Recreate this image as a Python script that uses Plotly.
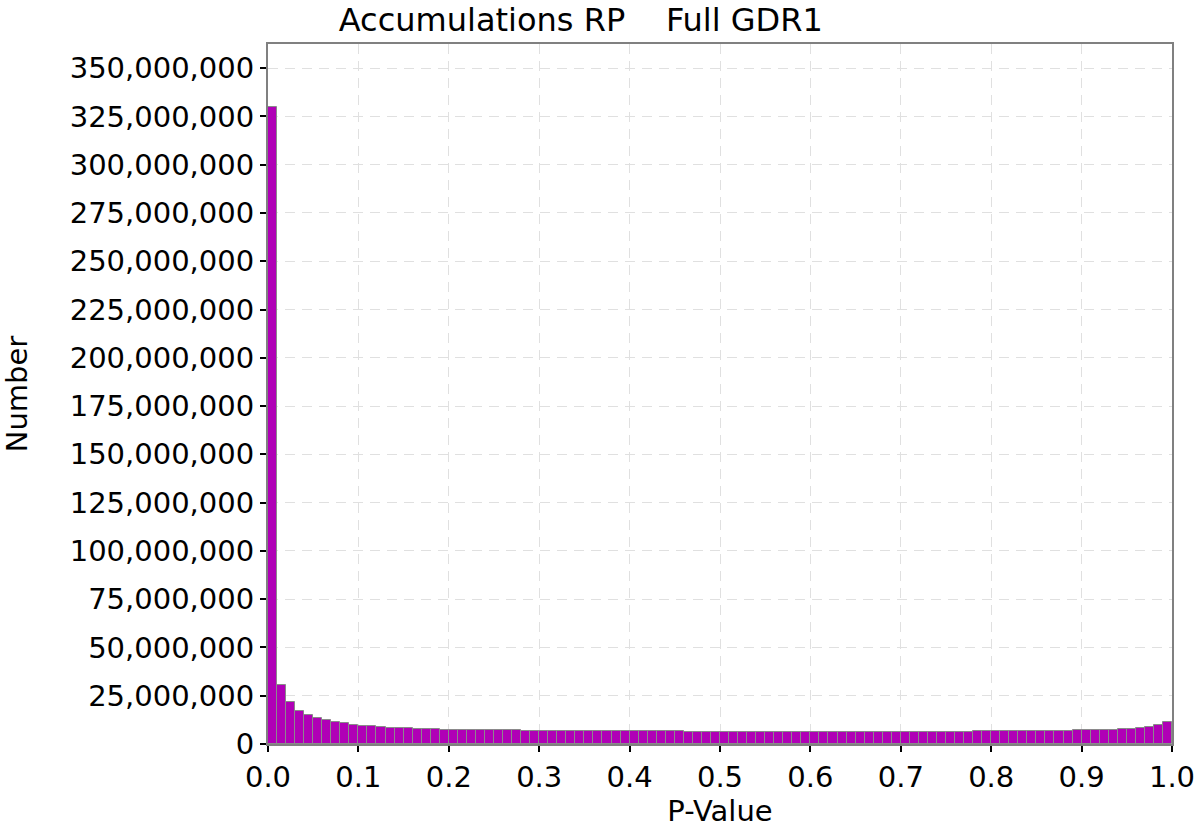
import numpy as np
import plotly.graph_objects as go

# histogram of p-values, 100 bins of width 0.01 (counts in millions)
counts_m = [
    330.0, 30.7, 21.7, 17.3, 15.0, 13.3, 12.4, 11.4, 10.7, 10.0,
    9.5, 9.1, 8.8, 8.5, 8.3, 8.1, 7.9, 7.8, 7.6, 7.5,
    7.4, 7.3, 7.3, 7.2, 7.1, 7.1, 7.0, 7.0, 6.9, 6.9,
    6.9, 6.8, 6.8, 6.8, 6.7, 6.7, 6.7, 6.6, 6.6, 6.6,
    6.6, 6.5, 6.5, 6.5, 6.5, 6.5, 6.4, 6.4, 6.4, 6.4,
    6.4, 6.4, 6.4, 6.3, 6.3, 6.3, 6.3, 6.3, 6.3, 6.3,
    6.3, 6.3, 6.3, 6.3, 6.3, 6.3, 6.3, 6.3, 6.3, 6.3,
    6.3, 6.3, 6.3, 6.4, 6.4, 6.4, 6.4, 6.4, 6.5, 6.5,
    6.5, 6.6, 6.6, 6.6, 6.7, 6.7, 6.8, 6.8, 6.9, 7.0,
    7.1, 7.2, 7.3, 7.4, 7.6, 7.9, 8.3, 8.8, 9.6, 11.4,
]
bin_width = 0.01
bin_centers = np.arange(len(counts_m)) * bin_width + bin_width / 2
counts = np.array(counts_m) * 1e6

x_ticks = [0.0, 0.1, 0.2, 0.3, 0.4, 0.5, 0.6, 0.7, 0.8, 0.9, 1.0]
y_ticks = list(range(0, 350_000_001, 25_000_000))

font_family = "DejaVu Sans"

fig = go.Figure()
fig.add_trace(go.Bar(
    x=bin_centers,
    y=counts,
    width=bin_width,
    marker=dict(color="#b000b6", line=dict(color="#8a8a8a", width=1)),
    showlegend=False,
))

fig.update_layout(
    width=1200,
    height=829,
    paper_bgcolor="white",
    plot_bgcolor="white",
    margin=dict(l=268, r=28, t=44, b=85),
    bargap=0,
    font=dict(family=font_family, color="black", size=29),
    title=dict(
        text="Accumulations RP\u00a0\u00a0\u00a0\u00a0Full GDR1",
        x=0.484, xanchor="center",
        y=0.976, yanchor="middle",
        font=dict(family=font_family, size=32, color="black"),
    ),
)

fig.update_xaxes(
    range=[0, 1],
    tickvals=x_ticks,
    tickformat=".1f",
    ticks="outside", ticklen=6, tickcolor="black", tickwidth=2,
    showgrid=True, gridcolor="#e0e0e0", griddash="10px,7px", gridwidth=1,
    showline=True, linecolor="#808080", linewidth=2, mirror=True,
    zeroline=False, automargin=False,
    title=dict(text="P-Value", font=dict(size=29), standoff=4),
    tickfont=dict(size=29),
)

fig.update_yaxes(
    range=[0, 362_500_000],
    tickvals=y_ticks,
    tickformat=",d",
    ticks="outside", ticklen=6, tickcolor="black", tickwidth=2,
    showgrid=True, gridcolor="#e0e0e0", griddash="10px,7px", gridwidth=1,
    showline=True, linecolor="#808080", linewidth=2, mirror=True,
    zeroline=False, automargin=False,
    title=dict(text="Number", font=dict(size=29), standoff=36),
    tickfont=dict(size=29),
)

# drop the page's default body margin so the figure sits at the window's corner
fig.write_html(
    "out.html",
    config={"displayModeBar": False},
    post_script="document.body.style.margin='0';",
)
